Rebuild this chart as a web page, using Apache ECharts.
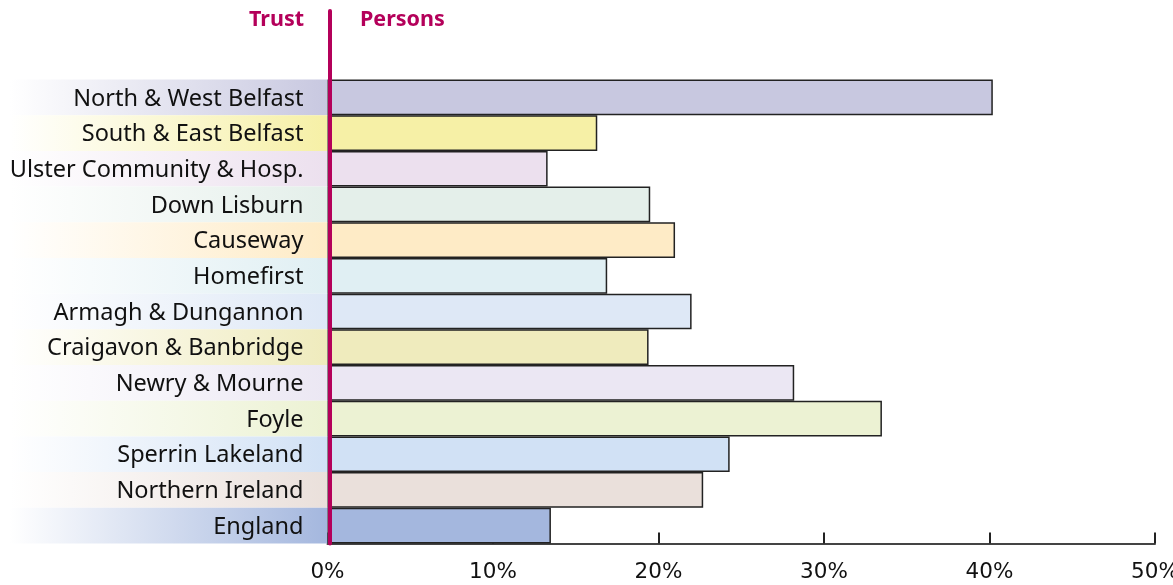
<!DOCTYPE html>
<html>
<head>
<meta charset="utf-8">
<script src="https://cdn.jsdelivr.net/npm/echarts@6/dist/echarts.min.js"></script>
<style>
html,body{margin:0;padding:0;background:#fff;overflow:hidden;}
#chart{width:1173px;height:585px;}
</style>
</head>
<body>
<div id="chart"></div>
<script>
var categories = ['North & West Belfast','South & East Belfast','Ulster Community & Hosp.','Down Lisburn','Causeway','Homefirst','Armagh & Dungannon','Craigavon & Banbridge','Newry & Mourne','Foyle','Sperrin Lakeland','Northern Ireland','England'];
var values = [40.2,16.3,13.3,19.5,21.0,16.9,22.0,19.4,28.2,33.5,24.3,22.7,13.5];
var colors = ['#c8c8e0','#f6f0a6','#ece0ee','#e4efea','#feebc6','#e0eff3','#dee8f6','#efebbd','#ebe7f3','#ecf2d3','#d1e1f5','#eae0db','#a4b7de'];
var tickValues = [0,10,20,30,40,50];
var headers = ['Trust','Persons'];

var FONT = 'Noto Sans';
var TICKFONT = 'DejaVu Sans';
var MAGENTA = '#b4005a';

var chart = echarts.init(document.getElementById('chart'), null, {renderer:'canvas', width:1173, height:585});

var barData = values.map(function(v,i){
  return {value:v, itemStyle:{color:colors[i]}};
});
var bandData = categories.map(function(c,i){
  return {value:1, itemStyle:{color:new echarts.graphic.LinearGradient(0,0,1,0,[
    {offset:0,color:'#ffffff'},{offset:0.03,color:'#ffffff'},{offset:1,color:colors[i]}])}};
});

var option = {
  animation:false,
  backgroundColor:'#ffffff',
  title:[
    {text:headers[0], right:1173-304, top:9, padding:0, textStyle:{fontFamily:FONT,fontSize:21.5,fontWeight:'bold',color:MAGENTA}},
    {text:headers[1], left:360, top:9, padding:0, textStyle:{fontFamily:FONT,fontSize:21.5,fontWeight:'bold',color:MAGENTA}}
  ],
  grid:[
    {left:327.5, right:18, top:79.5, bottom:41.5, containLabel:false, outerBoundsMode:'none'},
    {left:0, width:327.5, top:79.5, bottom:41.5, containLabel:false, outerBoundsMode:'none'},
    {left:329.5, right:18, top:11, bottom:41.5, containLabel:false, outerBoundsMode:'none'}
  ],
  xAxis:[
    {gridIndex:0, type:'value', min:0, max:50, interval:10,
     axisLine:{show:true, lineStyle:{color:'#444', width:2}},
     axisTick:{show:true, inside:true, length:11, lineStyle:{color:'#222', width:2}},
     axisLabel:{show:true, margin:18, fontFamily:TICKFONT, fontSize:21.5, color:'#111',
       formatter:function(v){return tickValues.indexOf(v)>=0 ? v+'%' : '';}},
     splitLine:{show:false}},
    {gridIndex:1, type:'value', min:0, max:1, show:false},
    {gridIndex:2, type:'value', min:0, max:1, show:false}
  ],
  yAxis:[
    {gridIndex:0, type:'category', data:categories, inverse:true,
     axisLine:{show:false}, axisTick:{show:false}, axisLabel:{show:false}, splitLine:{show:false}},
    {gridIndex:1, type:'category', data:categories, inverse:true, show:false},
    {gridIndex:2, type:'category', data:['x'], show:true,
     axisLine:{show:true, lineStyle:{color:MAGENTA, width:4}}, axisTick:{show:false}, axisLabel:{show:false}, splitLine:{show:false}, z:10}
  ],
  series:[
    {type:'bar', xAxisIndex:1, yAxisIndex:1, data:bandData, barCategoryGap:'0%', silent:true,
     label:{show:true, position:'insideRight', distance:24, offset:[0,1.5], fontFamily:FONT, fontSize:23.5, color:'#111',
       formatter:function(p){return p.name;}}},
    {type:'bar', xAxisIndex:0, yAxisIndex:0, data:barData, barCategoryGap:'0%',
     itemStyle:{borderColor:'#222', borderWidth:1.5}}
  ]
};
chart.setOption(option);
</script>
</body>
</html>
